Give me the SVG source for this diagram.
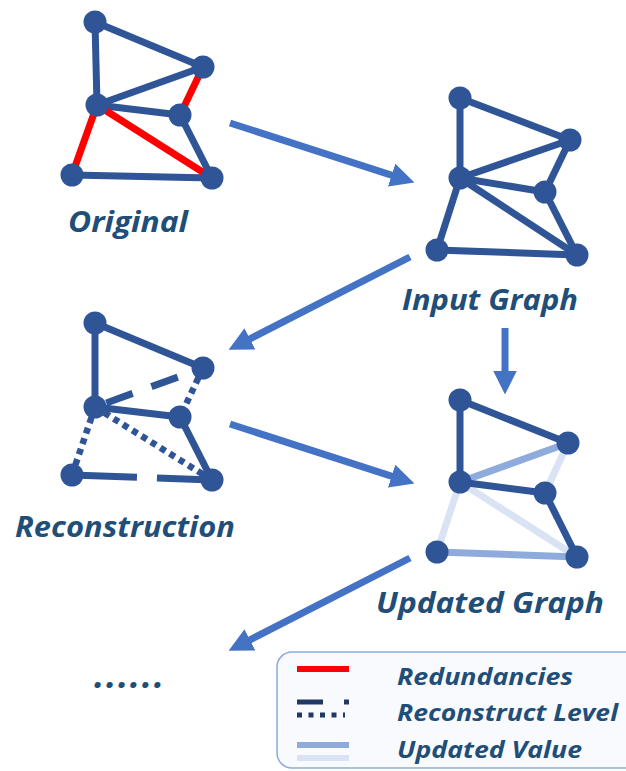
<svg xmlns="http://www.w3.org/2000/svg" width="626" height="771" viewBox="0 0 626 771">
<style>
.e{stroke:#2f5597;stroke-width:7;fill:none}
.r{stroke:#ff0000;stroke-width:7;fill:none}
.dash{stroke:#2f5597;stroke-width:7;fill:none}
.dot{stroke:#2f5597;stroke-width:6.5;fill:none;stroke-dasharray:6 5}
.l1{stroke:#8faadc;stroke-width:7;fill:none}
.l2{stroke:#dae3f3;stroke-width:7;fill:none}
.n{fill:#2f5597}
.arr{stroke:#4472c4;stroke-width:7;fill:none;marker-end:url(#ah)}
.lab{font-family:"Open Sans","Liberation Sans",sans-serif;font-weight:bold;font-style:italic;font-size:28px;fill:#1f4e79}
.leg{font-family:"Open Sans","Liberation Sans",sans-serif;font-weight:bold;font-style:italic;font-size:24px;fill:#1f4e79}
</style>
<defs>
<marker id="ah" markerUnits="userSpaceOnUse" markerWidth="24" markerHeight="24" viewBox="0 0 22 22" refX="5" refY="11" orient="auto">
<path d="M0,0 L22,11 L0,22 z" fill="#4472c4"/>
</marker>
</defs>
<rect width="626" height="771" fill="#ffffff"/>

<g id="original">
<line class="e" x1="95" y1="22" x2="203" y2="67"/>
<line class="e" x1="95" y1="22" x2="97" y2="105"/>
<line class="e" x1="97" y1="105" x2="203" y2="67"/>
<line class="e" x1="97" y1="105" x2="180" y2="115"/>
<line class="e" x1="180" y1="115" x2="212" y2="178"/>
<line class="e" x1="72" y1="175" x2="212" y2="178"/>
<line class="r" x1="203" y1="67" x2="180" y2="115"/>
<line class="r" x1="97" y1="105" x2="72" y2="175"/>
<line class="r" x1="97" y1="105" x2="212" y2="178"/>
<circle class="n" cx="95" cy="22" r="11.5"/>
<circle class="n" cx="203" cy="67" r="11.5"/>
<circle class="n" cx="97" cy="105" r="11.5"/>
<circle class="n" cx="180" cy="115" r="11.5"/>
<circle class="n" cx="72" cy="175" r="11.5"/>
<circle class="n" cx="212" cy="178" r="11.5"/>
<text class="lab" x="68" y="232" textLength="120" lengthAdjust="spacingAndGlyphs">Original</text>
</g>

<g id="input-graph">
<line class="e" x1="460" y1="98" x2="570" y2="140"/>
<line class="e" x1="460" y1="98" x2="460" y2="178"/>
<line class="e" x1="460" y1="178" x2="570" y2="140"/>
<line class="e" x1="460" y1="178" x2="545" y2="192"/>
<line class="e" x1="570" y1="140" x2="545" y2="192"/>
<line class="e" x1="545" y1="192" x2="577" y2="255"/>
<line class="e" x1="460" y1="178" x2="437" y2="250"/>
<line class="e" x1="460" y1="178" x2="577" y2="255"/>
<line class="e" x1="437" y1="250" x2="577" y2="255"/>
<circle class="n" cx="460" cy="98" r="11.5"/>
<circle class="n" cx="570" cy="140" r="11.5"/>
<circle class="n" cx="460" cy="178" r="11.5"/>
<circle class="n" cx="545" cy="192" r="11.5"/>
<circle class="n" cx="437" cy="250" r="11.5"/>
<circle class="n" cx="577" cy="255" r="11.5"/>
<text class="lab" x="402" y="310" textLength="176" lengthAdjust="spacingAndGlyphs">Input Graph</text>
</g>

<g id="reconstruction">
<line class="e" x1="95" y1="323" x2="203" y2="368"/>
<line class="e" x1="95" y1="323" x2="95" y2="407"/>
<line class="e" x1="95" y1="407" x2="180" y2="417"/>
<line class="e" x1="180" y1="417" x2="212" y2="480"/>
<line class="dash" x1="95" y1="407" x2="203" y2="368" stroke-dasharray="0 12 28 20 28 100"/>
<line class="dot" x1="203" y1="368" x2="180" y2="417"/>
<line class="dot" x1="95" y1="407" x2="72" y2="475"/>
<line class="dot" x1="95" y1="407" x2="212" y2="480"/>
<line class="dash" x1="72" y1="475" x2="212" y2="480" stroke-dasharray="65 20 200"/>
<circle class="n" cx="95" cy="323" r="11.5"/>
<circle class="n" cx="203" cy="368" r="11.5"/>
<circle class="n" cx="95" cy="407" r="11.5"/>
<circle class="n" cx="180" cy="417" r="11.5"/>
<circle class="n" cx="72" cy="475" r="11.5"/>
<circle class="n" cx="212" cy="480" r="11.5"/>
<text class="lab" x="15" y="537" textLength="220" lengthAdjust="spacingAndGlyphs">Reconstruction</text>
</g>

<g id="updated-graph">
<line class="l2" x1="568" y1="443" x2="545" y2="493"/>
<line class="l2" x1="460" y1="482" x2="437" y2="552"/>
<line class="l2" x1="460" y1="482" x2="577" y2="557"/>
<line class="l1" x1="460" y1="482" x2="568" y2="443"/>
<line class="l1" x1="437" y1="552" x2="577" y2="557"/>
<line class="e" x1="460" y1="400" x2="568" y2="443"/>
<line class="e" x1="460" y1="400" x2="460" y2="482"/>
<line class="e" x1="460" y1="482" x2="545" y2="493"/>
<line class="e" x1="545" y1="493" x2="577" y2="557"/>
<circle class="n" cx="460" cy="400" r="11.5"/>
<circle class="n" cx="568" cy="443" r="11.5"/>
<circle class="n" cx="460" cy="482" r="11.5"/>
<circle class="n" cx="545" cy="493" r="11.5"/>
<circle class="n" cx="437" cy="552" r="11.5"/>
<circle class="n" cx="577" cy="557" r="11.5"/>
<text class="lab" x="376" y="613" textLength="228" lengthAdjust="spacingAndGlyphs">Updated Graph</text>
</g>

<g id="ellipsis">
<text class="lab" x="94" y="688" textLength="70" lengthAdjust="spacing" style="font-size:36px">......</text>
</g>

<g id="connectors">
<line class="arr" x1="230" y1="123" x2="396.8" y2="176.8"/>
<line class="arr" x1="410" y1="257" x2="245.1" y2="341.3"/>
<line class="arr" x1="505" y1="328" x2="505" y2="376"/>
<line class="arr" x1="230" y1="424" x2="396.8" y2="477.8"/>
<line class="arr" x1="410" y1="558" x2="245.1" y2="642.3"/>
</g>

<g id="legend">
<rect x="277" y="652" width="365" height="116" rx="15" fill="#f8fafd" stroke="#8faadc" stroke-width="1.5"/>
<line x1="297" y1="669" x2="349" y2="669" stroke="#ff0000" stroke-width="6"/>
<line x1="297" y1="702" x2="323" y2="702" stroke="#203864" stroke-width="5"/>
<line x1="344" y1="702" x2="349" y2="702" stroke="#203864" stroke-width="5"/>
<line x1="297" y1="715" x2="345" y2="715" stroke="#203864" stroke-width="5" stroke-dasharray="5 6.5"/>
<line x1="297" y1="745" x2="349" y2="745" stroke="#8faadc" stroke-width="6"/>
<line x1="297" y1="758" x2="349" y2="758" stroke="#dae3f3" stroke-width="6"/>
<text class="leg" x="397" y="685" textLength="176" lengthAdjust="spacingAndGlyphs">Redundancies</text>
<text class="leg" x="397" y="721" textLength="221" lengthAdjust="spacingAndGlyphs">Reconstruct Level</text>
<text class="leg" x="397" y="758" textLength="185" lengthAdjust="spacingAndGlyphs">Updated Value</text>
</g>
</svg>
